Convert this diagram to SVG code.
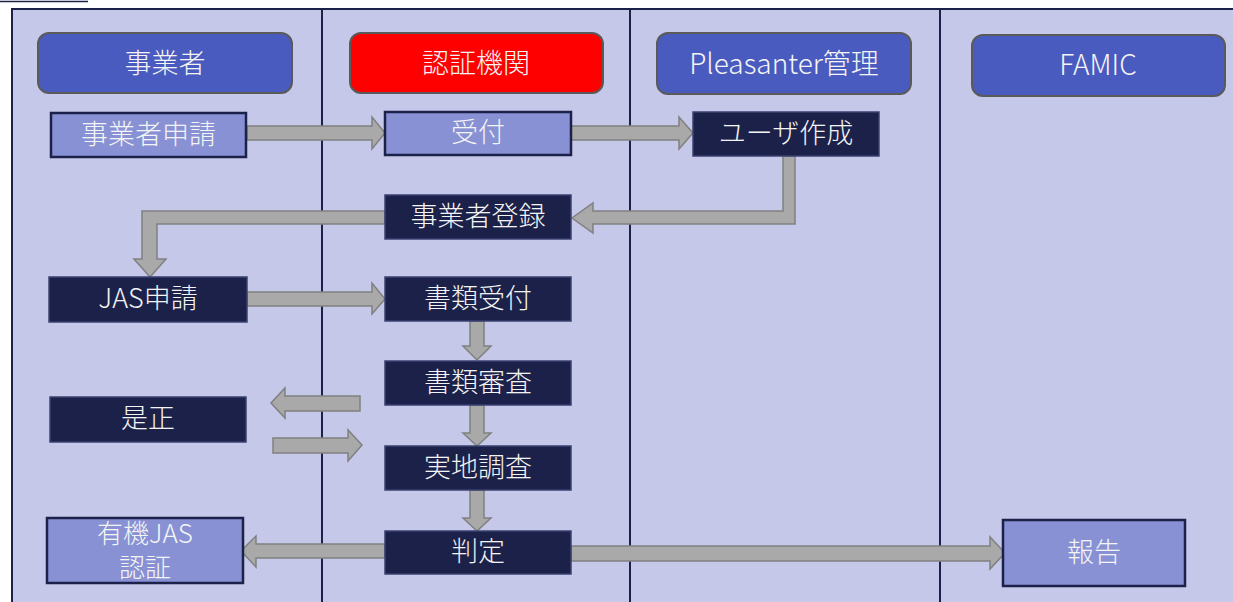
<svg xmlns="http://www.w3.org/2000/svg" width="1233" height="602" viewBox="0 0 1233 602">
<style>
.lane{fill:#c5c8e9;stroke:#1c2149;stroke-width:2}
.div{stroke:#1c2149;stroke-width:2}
.hdr{fill:#4a5bbf;stroke:#5a5a5a;stroke-width:2}
.hdr-red{fill:#ff0000;stroke:#5a5a5a;stroke-width:2}
.dark{fill:#1c2149;stroke:#3a4170;stroke-width:1.5}
.light{fill:#8791d4;stroke:#1c2149;stroke-width:2.5}
.arr{fill:#a9a9a9;stroke:#808080;stroke-width:1.5}
text{font-family:"Noto Sans CJK JP","Noto Sans",sans-serif;font-weight:300;font-size:27px;fill:#f4f4f4;text-anchor:middle;dominant-baseline:central}
.two{font-size:26px}
.wide{font-size:28px}
</style>
<rect width="1233" height="602" fill="#ffffff"/>
<line x1="0" y1="1.5" x2="88" y2="1.5" stroke="#1c2149" stroke-width="1.5"/>
<g id="lanes">
<rect class="lane" x="12" y="9" width="1240" height="610"/>
<line class="div" x1="322" y1="9" x2="322" y2="602"/>
<line class="div" x1="630" y1="9" x2="630" y2="602"/>
<line class="div" x1="940" y1="9" x2="940" y2="602"/>
</g>
<g id="connectors">
<polygon class="arr" points="247,126 372,126 372,117 385,133 372,149 372,140 247,140"/>
<polygon class="arr" points="571,126 679,126 679,117 693,133 679,149 679,140 571,140"/>
<polygon class="arr" points="795,156 795,224 593,224 593,233 572,218 593,203 593,211 783,211 783,156"/>
<polygon class="arr" points="385,211 142,211 142,259 134,259 150,277 166,259 157,259 157,224 385,224"/>
<polygon class="arr" points="247,292 372,292 372,283 385,299 372,314 372,306 247,306"/>
<polygon class="arr" points="470,321 484,321 484,346 491,346 477,360 463,346 470,346"/>
<polygon class="arr" points="470,405 484,405 484,433 491,433 477,446 463,433 470,433"/>
<polygon class="arr" points="470,490 484,490 484,518 491,518 477,531 463,518 470,518"/>
<polygon class="arr" points="360,396 285,396 285,388 271,403 285,418 285,411 360,411"/>
<polygon class="arr" points="273,438 348,438 348,430 362,445 348,461 348,453 273,453"/>
<polygon class="arr" points="385,544 256,544 256,536 241,551 256,567 256,558 385,558"/>
<polygon class="arr" points="571,546 990,546 990,537 1005,553 990,569 990,561 571,561"/>
</g>
<g id="h-jigyousha"><rect class="hdr" x="38" y="33" width="254" height="60" rx="11"/><text x="165" y="61">事業者</text></g>
<g id="h-ninsho"><rect class="hdr-red" x="350" y="33" width="253" height="60" rx="11"/><text x="476" y="61">認証機関</text></g>
<g id="h-pleasanter"><rect class="hdr" x="657" y="33" width="254" height="61" rx="11"/><text class="wide" x="784" y="62">Pleasanter管理</text></g>
<g id="h-famic"><rect class="hdr" x="972" y="35" width="253" height="61" rx="11"/><text class="wide" x="1098" y="63">FAMIC</text></g>
<g id="n-shinsei"><rect class="light" x="51" y="113" width="195" height="44"/><text x="148.5" y="132">事業者申請</text></g>
<g id="n-uketsuke"><rect class="light" x="385" y="112" width="186" height="43"/><text x="478" y="130">受付</text></g>
<g id="n-user"><rect class="dark" x="693" y="112" width="186" height="44"/><text x="786" y="131">ユーザ作成</text></g>
<g id="n-touroku"><rect class="dark" x="385" y="195" width="186" height="44"/><text x="478" y="214">事業者登録</text></g>
<g id="n-jas"><rect class="dark" x="49" y="277" width="198" height="45"/><text x="148" y="296">JAS申請</text></g>
<g id="n-shorui-uke"><rect class="dark" x="385" y="277" width="186" height="44"/><text x="478" y="296">書類受付</text></g>
<g id="n-shinsa"><rect class="dark" x="385" y="361" width="186" height="44"/><text x="478" y="380">書類審査</text></g>
<g id="n-zesei"><rect class="dark" x="50" y="397" width="196" height="45"/><text x="148" y="416">是正</text></g>
<g id="n-jicchi"><rect class="dark" x="385" y="446" width="186" height="44"/><text x="478" y="465">実地調査</text></g>
<g id="n-hantei"><rect class="dark" x="385" y="531" width="186" height="43"/><text x="478" y="549">判定</text></g>
<g id="n-yuki"><rect class="light" x="47" y="518" width="196" height="65"/><text class="two" x="145" y="531">有機JAS</text><text class="two" x="145" y="565">認証</text></g>
<g id="n-houkoku"><rect class="light" x="1003" y="520" width="182" height="66"/><text x="1094" y="550">報告</text></g>
</svg>
